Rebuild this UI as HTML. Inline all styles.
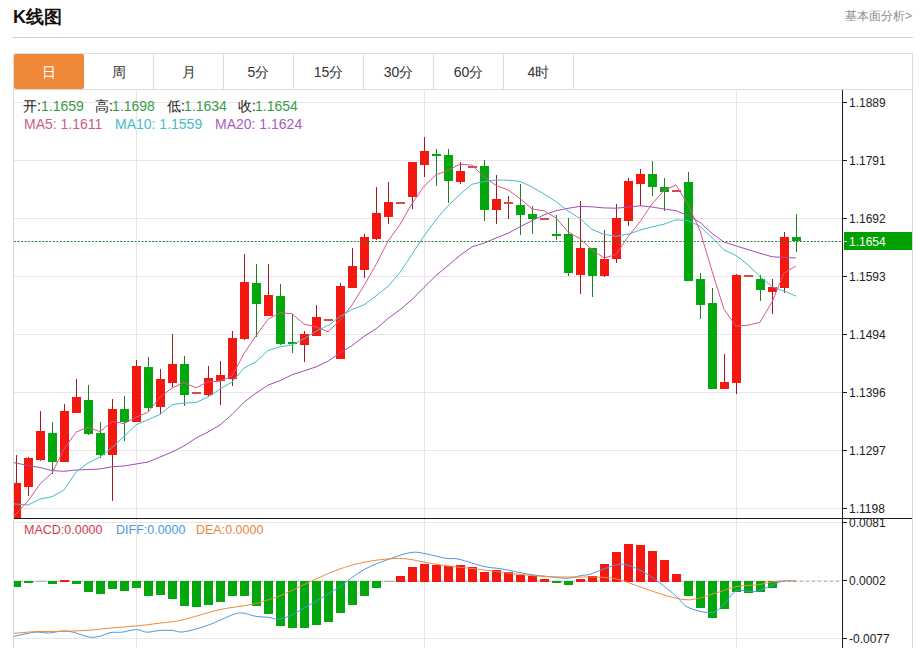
<!DOCTYPE html>
<html><head><meta charset="utf-8">
<style>
html,body{margin:0;padding:0;background:#fff;}
body{width:920px;height:648px;position:relative;overflow:hidden;font-family:"Liberation Sans",sans-serif;}
.t{position:absolute;white-space:nowrap;line-height:1;}
#title{left:13px;top:8px;font-size:18px;font-weight:bold;color:#111;}
#more{left:845px;top:10px;font-size:12px;color:#8a8a8a;}
#hr{position:absolute;left:12px;top:37px;width:901px;height:1px;background:#cfcfcf;}
#tabs{position:absolute;left:13px;top:53px;width:898px;height:35px;border:1px solid #dcdcdc;}
.tab{position:absolute;top:0;height:35px;width:69px;border-right:1px solid #dcdcdc;font-size:14px;color:#333;text-align:center;line-height:36px;}
.tab.on{background:#f0883a;color:#fff;border-right-color:#f0883a;border-radius:2px;top:0;}
.info{position:absolute;font-size:14px;line-height:1;white-space:nowrap;}
</style></head><body>
<div class="t" id="title">K线图</div>
<div class="t" id="more">基本面分析&gt;</div>
<div id="hr"></div>
<div id="tabs">
<div class="tab on" style="left:0">日</div>
<div class="tab" style="left:70px">周</div>
<div class="tab" style="left:140px">月</div>
<div class="tab" style="left:210px">5分</div>
<div class="tab" style="left:280px">15分</div>
<div class="tab" style="left:350px">30分</div>
<div class="tab" style="left:420px">60分</div>
<div class="tab" style="left:490px">4时</div>
</div>
<svg width="920" height="648" viewBox="0 0 920 648" style="position:absolute;left:0;top:0">
<defs><clipPath id="cm"><rect x="14" y="90" width="828" height="428"/></clipPath><clipPath id="cd"><rect x="14" y="519" width="828" height="129"/></clipPath></defs>
<g shape-rendering="crispEdges" stroke="#e6e6e6" stroke-width="1">
<line x1="14" y1="102.5" x2="842" y2="102.5"/>
<line x1="14" y1="160.5" x2="842" y2="160.5"/>
<line x1="14" y1="218.5" x2="842" y2="218.5"/>
<line x1="14" y1="276.5" x2="842" y2="276.5"/>
<line x1="14" y1="334.5" x2="842" y2="334.5"/>
<line x1="14" y1="392.5" x2="842" y2="392.5"/>
<line x1="14" y1="450.5" x2="842" y2="450.5"/>
<line x1="14" y1="508.5" x2="842" y2="508.5"/>
<line x1="14" y1="522.5" x2="842" y2="522.5"/>
<line x1="14" y1="580.5" x2="842" y2="580.5"/>
<line x1="14" y1="638.5" x2="842" y2="638.5"/>
<line x1="136.5" y1="90" x2="136.5" y2="648"/>
<line x1="424.5" y1="90" x2="424.5" y2="648"/>
<line x1="736.5" y1="90" x2="736.5" y2="648"/>
</g>
<g shape-rendering="crispEdges" stroke="#d9d9d9" stroke-width="1">
<line x1="13.5" y1="89" x2="13.5" y2="648"/>
<line x1="912.5" y1="89" x2="912.5" y2="648"/>
</g>
<g clip-path="url(#cm)" shape-rendering="crispEdges">
<rect x="16" y="455" width="1" height="63" fill="#a01c22"/>
<rect x="12" y="483" width="9" height="35" fill="#f41810"/>
<rect x="28" y="457" width="1" height="39" fill="#a01c22"/>
<rect x="24" y="458" width="9" height="29" fill="#f41810"/>
<rect x="40" y="411" width="1" height="50" fill="#a01c22"/>
<rect x="36" y="431" width="9" height="29" fill="#f41810"/>
<rect x="52" y="422" width="1" height="52" fill="#1f7d24"/>
<rect x="48" y="433" width="9" height="29" fill="#02a80e"/>
<rect x="64" y="404" width="1" height="57" fill="#a01c22"/>
<rect x="60" y="411" width="9" height="51" fill="#f41810"/>
<rect x="76" y="379" width="1" height="34" fill="#a01c22"/>
<rect x="72" y="397" width="9" height="16" fill="#f41810"/>
<rect x="88" y="385" width="1" height="50" fill="#1f7d24"/>
<rect x="84" y="400" width="9" height="34" fill="#02a80e"/>
<rect x="100" y="422" width="1" height="36" fill="#1f7d24"/>
<rect x="96" y="433" width="9" height="22" fill="#02a80e"/>
<rect x="112" y="399" width="1" height="102" fill="#a01c22"/>
<rect x="108" y="409" width="9" height="46" fill="#f41810"/>
<rect x="124" y="396" width="1" height="45" fill="#1f7d24"/>
<rect x="120" y="409" width="9" height="13" fill="#02a80e"/>
<rect x="136" y="360" width="1" height="62" fill="#a01c22"/>
<rect x="132" y="366" width="9" height="56" fill="#f41810"/>
<rect x="148" y="357" width="1" height="54" fill="#1f7d24"/>
<rect x="144" y="367" width="9" height="41" fill="#02a80e"/>
<rect x="160" y="369" width="1" height="45" fill="#a01c22"/>
<rect x="156" y="379" width="9" height="28" fill="#f41810"/>
<rect x="172" y="334" width="1" height="53" fill="#a01c22"/>
<rect x="168" y="364" width="9" height="19" fill="#f41810"/>
<rect x="184" y="356" width="1" height="50" fill="#1f7d24"/>
<rect x="180" y="364" width="9" height="31" fill="#02a80e"/>
<rect x="192" y="392" width="9" height="2" fill="#d84a4a"/>
<rect x="208" y="366" width="1" height="31" fill="#a01c22"/>
<rect x="204" y="378" width="9" height="17" fill="#f41810"/>
<rect x="220" y="361" width="1" height="44" fill="#a01c22"/>
<rect x="216" y="375" width="9" height="6" fill="#f41810"/>
<rect x="232" y="331" width="1" height="55" fill="#a01c22"/>
<rect x="228" y="338" width="9" height="41" fill="#f41810"/>
<rect x="244" y="254" width="1" height="86" fill="#a01c22"/>
<rect x="240" y="282" width="9" height="57" fill="#f41810"/>
<rect x="256" y="264" width="1" height="73" fill="#1f7d24"/>
<rect x="252" y="283" width="9" height="21" fill="#02a80e"/>
<rect x="268" y="264" width="1" height="52" fill="#a01c22"/>
<rect x="264" y="295" width="9" height="21" fill="#f41810"/>
<rect x="280" y="284" width="1" height="61" fill="#1f7d24"/>
<rect x="276" y="296" width="9" height="48" fill="#02a80e"/>
<rect x="292" y="314" width="1" height="39" fill="#1f7d24"/>
<rect x="288" y="342" width="9" height="2" fill="#02a80e"/>
<rect x="304" y="331" width="1" height="31" fill="#a01c22"/>
<rect x="300" y="334" width="9" height="11" fill="#f41810"/>
<rect x="316" y="305" width="1" height="31" fill="#a01c22"/>
<rect x="312" y="317" width="9" height="19" fill="#f41810"/>
<rect x="324" y="319" width="9" height="2" fill="#d84a4a"/>
<rect x="340" y="283" width="1" height="75" fill="#a01c22"/>
<rect x="336" y="286" width="9" height="73" fill="#f41810"/>
<rect x="352" y="248" width="1" height="40" fill="#a01c22"/>
<rect x="348" y="266" width="9" height="22" fill="#f41810"/>
<rect x="364" y="234" width="1" height="44" fill="#a01c22"/>
<rect x="360" y="237" width="9" height="33" fill="#f41810"/>
<rect x="376" y="187" width="1" height="53" fill="#a01c22"/>
<rect x="372" y="213" width="9" height="26" fill="#f41810"/>
<rect x="388" y="182" width="1" height="42" fill="#a01c22"/>
<rect x="384" y="202" width="9" height="15" fill="#f41810"/>
<rect x="396" y="202" width="9" height="2" fill="#d84a4a"/>
<rect x="412" y="162" width="1" height="47" fill="#a01c22"/>
<rect x="408" y="162" width="9" height="35" fill="#f41810"/>
<rect x="424" y="137" width="1" height="40" fill="#a01c22"/>
<rect x="420" y="151" width="9" height="14" fill="#f41810"/>
<rect x="436" y="149" width="1" height="37" fill="#1f7d24"/>
<rect x="432" y="154" width="9" height="2" fill="#02a80e"/>
<rect x="448" y="149" width="1" height="54" fill="#1f7d24"/>
<rect x="444" y="155" width="9" height="26" fill="#02a80e"/>
<rect x="460" y="162" width="1" height="22" fill="#a01c22"/>
<rect x="456" y="171" width="9" height="11" fill="#f41810"/>
<rect x="468" y="166" width="9" height="2" fill="#d84a4a"/>
<rect x="484" y="160" width="1" height="61" fill="#1f7d24"/>
<rect x="480" y="166" width="9" height="44" fill="#02a80e"/>
<rect x="496" y="175" width="1" height="49" fill="#a01c22"/>
<rect x="492" y="199" width="9" height="11" fill="#f41810"/>
<rect x="508" y="196" width="1" height="23" fill="#a01c22"/>
<rect x="504" y="202" width="9" height="2" fill="#d84a4a"/>
<rect x="520" y="184" width="1" height="51" fill="#1f7d24"/>
<rect x="516" y="205" width="9" height="10" fill="#02a80e"/>
<rect x="532" y="206" width="1" height="28" fill="#1f7d24"/>
<rect x="528" y="214" width="9" height="5" fill="#02a80e"/>
<rect x="540" y="218" width="9" height="2" fill="#d84a4a"/>
<rect x="556" y="215" width="1" height="25" fill="#1f7d24"/>
<rect x="552" y="234" width="9" height="2" fill="#02a80e"/>
<rect x="568" y="218" width="1" height="58" fill="#1f7d24"/>
<rect x="564" y="234" width="9" height="39" fill="#02a80e"/>
<rect x="580" y="201" width="1" height="93" fill="#a01c22"/>
<rect x="576" y="248" width="9" height="27" fill="#f41810"/>
<rect x="592" y="249" width="1" height="48" fill="#1f7d24"/>
<rect x="588" y="248" width="9" height="28" fill="#02a80e"/>
<rect x="604" y="230" width="1" height="47" fill="#a01c22"/>
<rect x="600" y="259" width="9" height="17" fill="#f41810"/>
<rect x="616" y="204" width="1" height="59" fill="#a01c22"/>
<rect x="612" y="218" width="9" height="41" fill="#f41810"/>
<rect x="628" y="178" width="1" height="48" fill="#a01c22"/>
<rect x="624" y="181" width="9" height="40" fill="#f41810"/>
<rect x="640" y="169" width="1" height="37" fill="#a01c22"/>
<rect x="636" y="174" width="9" height="10" fill="#f41810"/>
<rect x="652" y="161" width="1" height="35" fill="#1f7d24"/>
<rect x="648" y="174" width="9" height="13" fill="#02a80e"/>
<rect x="664" y="178" width="1" height="33" fill="#1f7d24"/>
<rect x="660" y="187" width="9" height="5" fill="#02a80e"/>
<rect x="672" y="190" width="9" height="2" fill="#d84a4a"/>
<rect x="688" y="172" width="1" height="109" fill="#1f7d24"/>
<rect x="684" y="182" width="9" height="99" fill="#02a80e"/>
<rect x="700" y="273" width="1" height="46" fill="#1f7d24"/>
<rect x="696" y="279" width="9" height="26" fill="#02a80e"/>
<rect x="712" y="288" width="1" height="100" fill="#1f7d24"/>
<rect x="708" y="303" width="9" height="86" fill="#02a80e"/>
<rect x="724" y="354" width="1" height="34" fill="#a01c22"/>
<rect x="720" y="382" width="9" height="7" fill="#f41810"/>
<rect x="736" y="274" width="1" height="120" fill="#a01c22"/>
<rect x="732" y="275" width="9" height="108" fill="#f41810"/>
<rect x="744" y="275" width="9" height="2" fill="#d84a4a"/>
<rect x="760" y="275" width="1" height="26" fill="#1f7d24"/>
<rect x="756" y="279" width="9" height="11" fill="#02a80e"/>
<rect x="772" y="279" width="1" height="35" fill="#a01c22"/>
<rect x="768" y="287" width="9" height="5" fill="#f41810"/>
<rect x="784" y="232" width="1" height="61" fill="#a01c22"/>
<rect x="780" y="237" width="9" height="51" fill="#f41810"/>
<rect x="796" y="214" width="1" height="38" fill="#1f7d24"/>
<rect x="792" y="237" width="9" height="4" fill="#02a80e"/>
</g>
<g clip-path="url(#cm)" fill="none" stroke-width="1" stroke-linejoin="round">
<path d="M4.0,461.0 L16.0,463.0 L28.0,465.6 L40.0,467.5 L52.0,470.6 L64.0,471.3 L76.0,470.0 L88.0,469.5 L100.0,469.0 L112.0,466.8 L124.0,466.0 L136.0,464.0 L148.0,462.0 L160.0,457.0 L172.0,452.0 L184.0,446.0 L196.0,438.0 L208.0,432.0 L220.0,425.0 L232.0,414.5 L244.0,402.2 L256.0,393.2 L268.0,385.1 L280.0,380.7 L292.0,374.8 L304.0,370.9 L316.0,366.9 L328.0,361.2 L340.0,352.8 L352.0,345.7 L364.0,336.4 L376.0,328.8 L388.0,318.5 L400.0,309.7 L412.0,299.6 L424.0,287.4 L436.0,275.5 L448.0,265.6 L460.0,255.4 L472.0,246.8 L484.0,243.2 L496.0,238.0 L508.0,233.3 L520.0,226.8 L532.0,220.6 L544.0,214.9 L556.0,210.7 L568.0,208.3 L580.0,206.4 L592.0,206.8 L604.0,207.9 L616.0,208.2 L628.0,207.2 L640.0,205.8 L652.0,207.0 L664.0,209.0 L676.0,210.7 L688.0,215.7 L700.0,222.4 L712.0,233.4 L724.0,242.1 L736.0,245.9 L748.0,249.6 L760.0,253.3 L772.0,256.7 L784.0,257.6 L796.0,257.9" stroke="#a44cb4"/>
<path d="M4.0,503.0 L16.0,504.0 L28.0,505.0 L40.0,499.0 L52.0,496.7 L64.0,490.0 L76.0,472.0 L88.0,463.0 L100.0,457.0 L112.0,447.5 L124.0,436.4 L136.0,424.8 L148.0,419.7 L160.0,414.4 L172.0,404.7 L184.0,403.0 L196.0,402.6 L208.0,397.0 L220.0,389.1 L232.0,382.0 L244.0,368.0 L256.0,361.7 L268.0,350.5 L280.0,346.9 L292.0,344.8 L304.0,338.8 L316.0,331.3 L328.0,325.5 L340.0,316.5 L352.0,309.4 L364.0,304.9 L376.0,295.8 L388.0,286.5 L400.0,272.4 L412.0,254.3 L424.0,236.0 L436.0,219.7 L448.0,205.8 L460.0,194.3 L472.0,184.3 L484.0,181.5 L496.0,180.1 L508.0,180.2 L520.0,181.3 L532.0,187.0 L544.0,193.8 L556.0,201.7 L568.0,210.9 L580.0,218.5 L592.0,229.4 L604.0,234.3 L616.0,236.3 L628.0,234.2 L640.0,230.2 L652.0,226.9 L664.0,224.2 L676.0,219.8 L688.0,220.6 L700.0,226.2 L712.0,237.5 L724.0,249.8 L736.0,255.5 L748.0,264.9 L760.0,276.5 L772.0,286.5 L784.0,291.1 L796.0,296.1" stroke="#44bcc8"/>
<path d="M4.0,530.0 L16.0,514.0 L28.0,501.0 L40.0,484.0 L52.0,473.0 L64.0,449.2 L76.0,432.2 L88.0,427.2 L100.0,431.7 L112.0,421.4 L124.0,423.6 L136.0,417.3 L148.0,412.2 L160.0,397.1 L172.0,388.0 L184.0,382.5 L196.0,387.8 L208.0,381.8 L220.0,381.1 L232.0,376.0 L244.0,353.6 L256.0,335.7 L268.0,319.2 L280.0,312.8 L292.0,313.7 L304.0,324.1 L316.0,326.9 L328.0,331.8 L340.0,320.3 L352.0,305.0 L364.0,285.6 L376.0,264.7 L388.0,241.1 L400.0,224.5 L412.0,203.6 L424.0,186.3 L436.0,174.8 L448.0,170.4 L460.0,164.2 L472.0,165.1 L484.0,176.7 L496.0,185.5 L508.0,189.9 L520.0,198.5 L532.0,208.9 L544.0,210.8 L556.0,217.9 L568.0,231.8 L580.0,238.6 L592.0,249.9 L604.0,257.9 L616.0,254.7 L628.0,236.6 L640.0,221.8 L652.0,204.0 L664.0,190.4 L676.0,184.8 L688.0,204.6 L700.0,230.6 L712.0,271.1 L724.0,309.2 L736.0,326.2 L748.0,325.2 L760.0,322.3 L772.0,302.0 L784.0,273.0 L796.0,266.0" stroke="#d6588a"/>
</g>
<line x1="14" y1="241.5" x2="842" y2="241.5" stroke="#2f7a35" stroke-width="1" stroke-dasharray="2,1.54"/>
<line x1="14" y1="581.5" x2="842" y2="581.5" stroke="#b0c0c4" stroke-width="1" stroke-dasharray="3,3" shape-rendering="crispEdges"/>
<g clip-path="url(#cd)" shape-rendering="crispEdges">
<rect x="12" y="581" width="9" height="6" fill="#02a80e"/>
<rect x="24" y="581" width="9" height="2" fill="#02a80e"/>
<rect x="36" y="581" width="9" height="1" fill="#9cbf9c"/>
<rect x="48" y="581" width="9" height="3" fill="#02a80e"/>
<rect x="60" y="580" width="9" height="2" fill="#f41810"/>
<rect x="72" y="581" width="9" height="3" fill="#02a80e"/>
<rect x="84" y="581" width="9" height="11" fill="#02a80e"/>
<rect x="96" y="581" width="9" height="13" fill="#02a80e"/>
<rect x="108" y="581" width="9" height="8" fill="#02a80e"/>
<rect x="120" y="581" width="9" height="10" fill="#02a80e"/>
<rect x="132" y="581" width="9" height="7" fill="#02a80e"/>
<rect x="144" y="581" width="9" height="15" fill="#02a80e"/>
<rect x="156" y="581" width="9" height="14" fill="#02a80e"/>
<rect x="168" y="581" width="9" height="18" fill="#02a80e"/>
<rect x="180" y="581" width="9" height="25" fill="#02a80e"/>
<rect x="192" y="581" width="9" height="26" fill="#02a80e"/>
<rect x="204" y="581" width="9" height="24" fill="#02a80e"/>
<rect x="216" y="581" width="9" height="21" fill="#02a80e"/>
<rect x="228" y="581" width="9" height="15" fill="#02a80e"/>
<rect x="240" y="581" width="9" height="15" fill="#02a80e"/>
<rect x="252" y="581" width="9" height="25" fill="#02a80e"/>
<rect x="264" y="581" width="9" height="33" fill="#02a80e"/>
<rect x="276" y="581" width="9" height="45" fill="#02a80e"/>
<rect x="288" y="581" width="9" height="47" fill="#02a80e"/>
<rect x="300" y="581" width="9" height="47" fill="#02a80e"/>
<rect x="312" y="581" width="9" height="44" fill="#02a80e"/>
<rect x="324" y="581" width="9" height="41" fill="#02a80e"/>
<rect x="336" y="581" width="9" height="32" fill="#02a80e"/>
<rect x="348" y="581" width="9" height="24" fill="#02a80e"/>
<rect x="360" y="581" width="9" height="15" fill="#02a80e"/>
<rect x="372" y="581" width="9" height="7" fill="#02a80e"/>
<rect x="384" y="581" width="9" height="1" fill="#9cbf9c"/>
<rect x="396" y="576" width="9" height="6" fill="#f41810"/>
<rect x="408" y="567" width="9" height="15" fill="#f41810"/>
<rect x="420" y="564" width="9" height="18" fill="#f41810"/>
<rect x="432" y="565" width="9" height="17" fill="#f41810"/>
<rect x="444" y="566" width="9" height="16" fill="#f41810"/>
<rect x="456" y="565" width="9" height="17" fill="#f41810"/>
<rect x="468" y="567" width="9" height="15" fill="#f41810"/>
<rect x="480" y="572" width="9" height="10" fill="#f41810"/>
<rect x="492" y="570" width="9" height="12" fill="#f41810"/>
<rect x="504" y="572" width="9" height="10" fill="#f41810"/>
<rect x="516" y="575" width="9" height="7" fill="#f41810"/>
<rect x="528" y="576" width="9" height="6" fill="#f41810"/>
<rect x="540" y="579" width="9" height="3" fill="#f41810"/>
<rect x="552" y="581" width="9" height="2" fill="#02a80e"/>
<rect x="564" y="581" width="9" height="4" fill="#02a80e"/>
<rect x="576" y="579" width="9" height="3" fill="#f41810"/>
<rect x="588" y="576" width="9" height="6" fill="#f41810"/>
<rect x="600" y="564" width="9" height="18" fill="#f41810"/>
<rect x="612" y="552" width="9" height="30" fill="#f41810"/>
<rect x="624" y="544" width="9" height="38" fill="#f41810"/>
<rect x="636" y="545" width="9" height="37" fill="#f41810"/>
<rect x="648" y="551" width="9" height="31" fill="#f41810"/>
<rect x="660" y="560" width="9" height="22" fill="#f41810"/>
<rect x="672" y="574" width="9" height="8" fill="#f41810"/>
<rect x="684" y="581" width="9" height="15" fill="#02a80e"/>
<rect x="696" y="581" width="9" height="27" fill="#02a80e"/>
<rect x="708" y="581" width="9" height="37" fill="#02a80e"/>
<rect x="720" y="581" width="9" height="28" fill="#02a80e"/>
<rect x="732" y="581" width="9" height="11" fill="#02a80e"/>
<rect x="744" y="581" width="9" height="12" fill="#02a80e"/>
<rect x="756" y="581" width="9" height="11" fill="#02a80e"/>
<rect x="768" y="581" width="9" height="7" fill="#02a80e"/>
</g>
<g clip-path="url(#cd)" fill="none" stroke-width="1" stroke-linejoin="round">
<path d="M4.0,638.5 C5.6,638.2 8.5,637.5 13.6,636.5 C18.7,635.5 28.9,632.8 34.8,632.2 C40.6,631.6 44.1,633.2 48.7,633.0 C53.3,632.8 58.6,631.1 62.6,631.0 C66.7,630.9 68.7,631.2 73.0,632.2 C77.3,633.2 84.4,636.3 88.7,637.0 C93.0,637.7 95.3,637.2 99.0,636.5 C102.7,635.8 107.2,633.2 111.0,632.5 C114.8,631.8 117.5,632.7 121.7,632.2 C126.0,631.7 132.3,629.6 136.5,629.6 C140.7,629.6 143.1,632.1 147.0,632.2 C150.9,632.3 155.8,630.7 160.0,630.4 C164.2,630.1 168.0,630.2 172.0,630.4 C176.0,630.6 178.0,632.7 184.0,631.8 C190.0,630.9 199.9,628.0 208.0,625.2 C216.1,622.4 226.8,616.8 232.6,614.8 C238.4,612.8 239.3,612.8 243.0,613.0 C246.7,613.2 250.7,615.5 255.0,616.2 C259.3,616.9 265.2,616.9 269.0,617.4 C272.8,617.9 274.5,619.4 278.0,619.1 C281.5,618.8 284.3,618.3 290.0,615.7 C295.7,613.1 304.0,608.1 312.0,603.5 C320.0,598.9 329.3,593.4 338.0,587.8 C346.7,582.1 355.3,574.4 364.0,569.6 C372.7,564.8 382.2,561.6 390.0,558.8 C397.8,555.9 405.2,553.4 411.0,552.5 C416.8,551.6 419.2,552.6 425.0,553.6 C430.8,554.6 440.3,557.4 446.0,558.3 C451.7,559.2 452.7,557.8 459.0,559.2 C465.3,560.6 476.7,564.9 484.0,566.5 C491.3,568.1 495.5,567.8 503.0,569.1 C510.5,570.4 520.7,573.0 529.0,574.3 C537.3,575.6 546.7,576.3 553.0,577.0 C559.3,577.7 562.3,578.5 567.0,578.3 C571.7,578.1 577.2,576.3 581.0,575.6 C584.8,574.9 586.5,575.3 590.0,574.3 C593.5,573.3 597.5,571.3 602.0,569.7 C606.5,568.1 613.0,565.6 617.0,564.8 C621.0,564.0 621.9,563.8 626.0,564.8 C630.1,565.8 636.0,568.0 641.5,570.9 C647.0,573.8 653.2,578.0 659.0,582.2 C664.8,586.4 671.2,591.9 676.0,596.1 C680.8,600.3 682.5,604.6 688.0,607.4 C693.5,610.1 703.7,612.5 709.0,612.6 C714.3,612.8 715.7,611.8 720.0,608.3 C724.3,604.8 730.7,594.6 735.0,591.7 C739.3,588.8 742.2,591.0 746.0,590.9 C749.8,590.8 752.1,592.5 758.0,590.9 C763.9,589.3 775.3,583.1 781.6,581.5 C787.9,579.9 793.6,581.1 796.0,581.0" stroke="#4a98df"/>
<path d="M4.0,634.0 C5.6,633.9 8.5,633.8 13.6,633.4 C18.7,633.0 26.9,632.1 34.8,631.7 C42.7,631.4 52.3,631.5 61.0,631.3 C69.7,631.1 78.3,631.0 87.0,630.4 C95.7,629.8 104.8,628.5 113.0,627.8 C121.2,627.1 128.7,626.8 136.5,626.0 C144.3,625.2 152.4,624.1 160.0,623.1 C167.6,622.1 172.0,622.2 182.0,620.0 C192.0,617.8 208.3,612.2 220.0,609.6 C231.7,607.0 242.3,606.5 252.0,604.3 C261.7,602.1 271.7,598.7 278.0,596.5 C284.3,594.3 284.3,593.9 290.0,591.3 C295.7,588.7 304.0,584.5 312.0,580.9 C320.0,577.3 329.3,572.7 338.0,569.6 C346.7,566.5 355.3,564.1 364.0,562.3 C372.7,560.5 382.7,559.3 390.0,558.8 C397.3,558.3 402.2,558.5 408.0,559.1 C413.8,559.7 418.7,561.2 425.0,562.3 C431.3,563.4 437.3,564.6 446.0,565.7 C454.7,566.8 466.0,567.8 477.0,569.1 C488.0,570.4 500.5,572.2 512.0,573.5 C523.5,574.8 535.7,576.0 546.0,576.6 C556.3,577.2 564.7,576.9 574.0,577.0 C583.3,577.1 594.5,576.9 602.0,577.3 C609.5,577.7 612.4,577.9 619.0,579.6 C625.6,581.3 633.4,584.6 641.5,587.4 C649.6,590.1 660.4,594.1 667.6,596.1 C674.9,598.1 680.1,599.2 685.0,599.6 C689.9,600.0 691.8,599.8 697.0,598.7 C702.2,597.6 709.3,595.0 716.0,593.0 C722.7,591.0 730.0,587.9 737.0,586.5 C744.0,585.1 752.3,585.5 758.0,584.8 C763.7,584.1 767.1,582.7 771.0,582.1 C774.9,581.5 777.4,581.2 781.6,581.0 C785.8,580.8 793.6,581.0 796.0,581.0" stroke="#ef8a3a"/>
</g>
<g shape-rendering="crispEdges" stroke="#1e1e1e" stroke-width="1">
<line x1="14" y1="518.5" x2="912" y2="518.5"/>
<line x1="842.5" y1="90" x2="842.5" y2="648"/>
<line x1="843" y1="102.5" x2="847" y2="102.5"/>
<line x1="843" y1="160.5" x2="847" y2="160.5"/>
<line x1="843" y1="218.5" x2="847" y2="218.5"/>
<line x1="843" y1="276.5" x2="847" y2="276.5"/>
<line x1="843" y1="334.5" x2="847" y2="334.5"/>
<line x1="843" y1="392.5" x2="847" y2="392.5"/>
<line x1="843" y1="450.5" x2="847" y2="450.5"/>
<line x1="843" y1="508.5" x2="847" y2="508.5"/>
<line x1="843" y1="522.5" x2="847" y2="522.5"/>
<line x1="843" y1="580.5" x2="847" y2="580.5"/>
<line x1="843" y1="638.5" x2="847" y2="638.5"/>
<line x1="843" y1="241.5" x2="847" y2="241.5"/>
</g>
<rect x="844" y="232" width="68" height="18" fill="#00a000" shape-rendering="crispEdges"/>
<line x1="843" y1="241.5" x2="847" y2="241.5" stroke="#e8f8e8" stroke-width="1" shape-rendering="crispEdges"/>
<g font-family="Liberation Sans, sans-serif" font-size="12" fill="#222">
<text x="849" y="106.5">1.1889</text>
<text x="849" y="164.5">1.1791</text>
<text x="849" y="222.5">1.1692</text>
<text x="849" y="280.5">1.1593</text>
<text x="849" y="338.5">1.1494</text>
<text x="849" y="396.5">1.1396</text>
<text x="849" y="454.5">1.1297</text>
<text x="849" y="512.5">1.1198</text>
<text x="849" y="526.5">0.0081</text>
<text x="849" y="584.5">0.0002</text>
<text x="849" y="642.5">-0.0077</text>
<text x="849" y="245.5" fill="#fff">1.1654</text>
</g>
</svg>
<div class="info" style="left:23px;top:99px;color:#222">开:</div>
<div class="info" style="left:41px;top:99px;color:#3c9a46">1.1659</div>
<div class="info" style="left:95px;top:99px;color:#222">高:</div>
<div class="info" style="left:112px;top:99px;color:#3c9a46">1.1698</div>
<div class="info" style="left:167px;top:99px;color:#222">低:</div>
<div class="info" style="left:184px;top:99px;color:#3c9a46">1.1634</div>
<div class="info" style="left:238px;top:99px;color:#222">收:</div>
<div class="info" style="left:255px;top:99px;color:#3c9a46">1.1654</div>
<div class="info" style="left:24px;top:117px;color:#cf5a86">MA5: 1.1611</div>
<div class="info" style="left:115px;top:117px;color:#46bcc6">MA10: 1.1559</div>
<div class="info" style="left:215px;top:117px;color:#a85cc0">MA20: 1.1624</div>
<div class="info" style="left:24px;top:524px;color:#d23a4a;font-size:12.5px">MACD:0.0000</div>
<div class="info" style="left:116px;top:524px;color:#4a98df;font-size:12.5px">DIFF:0.0000</div>
<div class="info" style="left:196px;top:524px;color:#ea8438;font-size:12.5px">DEA:0.0000</div>
</body></html>
